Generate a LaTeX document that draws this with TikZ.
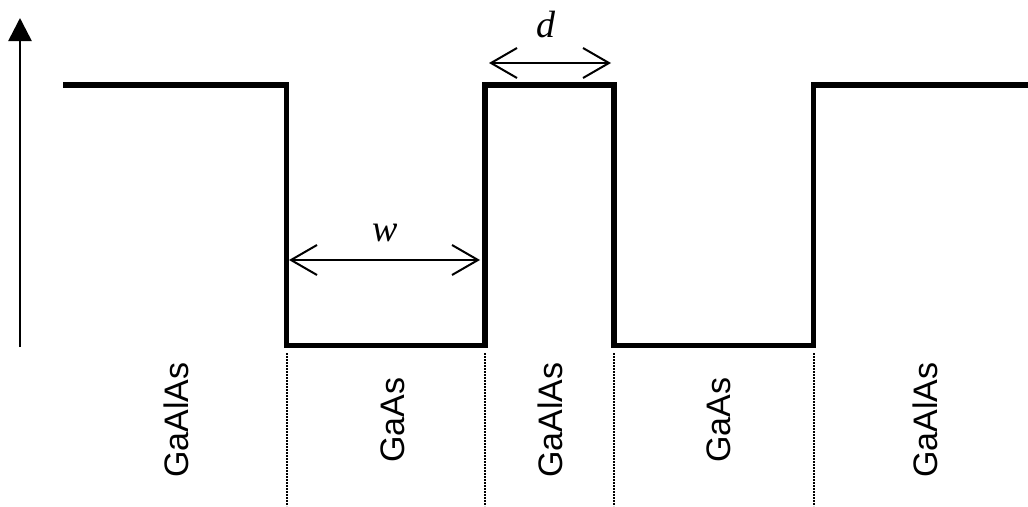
\documentclass[tikz,border=0pt]{standalone}
\usepackage{fontspec}
\setmainfont{Liberation Serif}
\newfontfamily\labelfont{Liberation Sans}
\usetikzlibrary{arrows.meta}
\begin{document}
\begin{tikzpicture}[x=1pt,y=-1pt,
  profile/.style={line width=5.3pt,line join=miter},
  axis/.style={line width=2.6pt,-{Triangle[length=23pt,width=23pt]}},
  dimline/.style={line width=2pt,{Straight Barb[length=26pt,width=30pt]}-{Straight Barb[length=26pt,width=30pt]}},
  divider/.style={line width=2pt,dash pattern=on 2pt off 1pt},
  layer/.style={rotate=90,font=\labelfont\fontsize{34}{40}\selectfont,inner sep=0pt},
  dimlabel/.style={font=\itshape\fontsize{38}{44}\selectfont,inner sep=0pt}]
\useasboundingbox (0,0) rectangle (1028,506);
% energy axis
\coordinate (a0) at (20,347);
\coordinate (a1) at (20,18);
\draw[axis] (a0) -- (a1);
% band-edge profile of the double well
\coordinate (p0) at (63,85);
\coordinate (p1) at (286.5,85);
\coordinate (p2) at (286.5,345.5);
\coordinate (p3) at (485,345.5);
\coordinate (p4) at (485,85);
\coordinate (p5) at (614,85);
\coordinate (p6) at (614,345.5);
\coordinate (p7) at (813.5,345.5);
\coordinate (p8) at (813.5,85);
\coordinate (p9) at (1030,85);
\draw[profile] (p0) -- (p1) -- (p2) -- (p3) -- (p4) -- (p5) -- (p6) -- (p7) -- (p8) -- (p9);
% layer boundaries
\foreach \x/\n in {286.5/b1,485/b2,614/b3,813.5/b4}{
  \coordinate (\n t) at (\x,353);
  \coordinate (\n b) at (\x,506);
  \draw[divider] (\n t) -- (\n b);
}
% well width and barrier thickness
\coordinate (w0) at (289,260);
\coordinate (w1) at (480,260);
\draw[dimline] (w0) -- (w1);
\node[dimlabel] (wl) at (385,233) {w};
\coordinate (d0) at (489,63);
\coordinate (d1) at (611,63);
\draw[dimline] (d0) -- (d1);
\node[dimlabel] (dl) at (546,25) {d};
% layer materials
\node[layer] (m1) at (176,420) {GaAlAs};
\node[layer] (m2) at (393,420) {GaAs};
\node[layer] (m3) at (550,420) {GaAlAs};
\node[layer] (m4) at (719,420) {GaAs};
\node[layer] (m5) at (925,420) {GaAlAs};
\end{tikzpicture}
\end{document}
